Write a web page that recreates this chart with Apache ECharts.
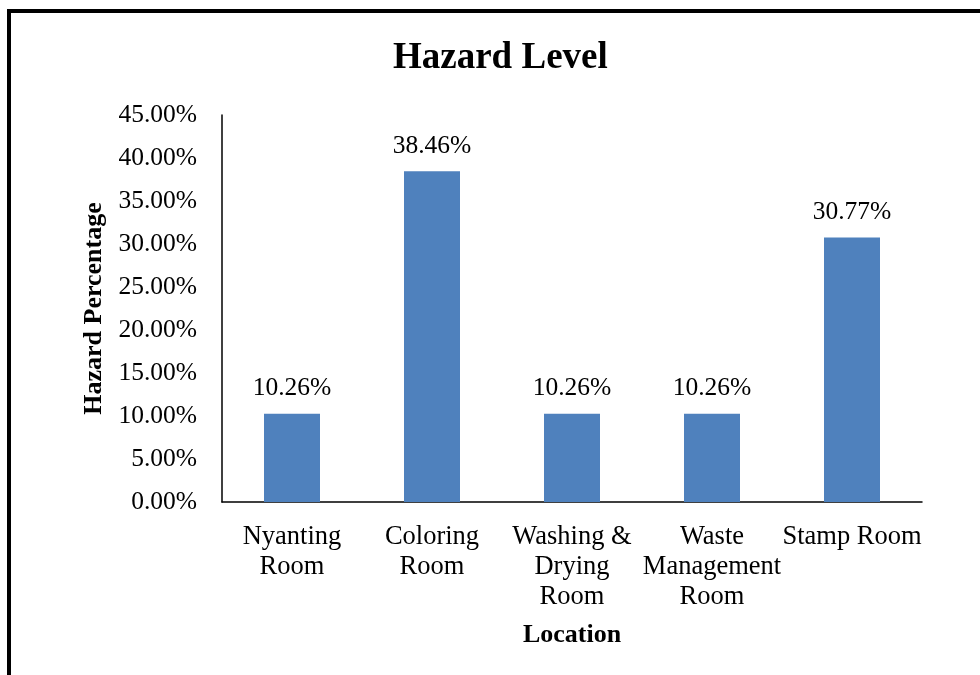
<!DOCTYPE html>
<html><head><meta charset="utf-8">
<script src="https://cdn.jsdelivr.net/npm/echarts@6/dist/echarts.min.js"></script>
<style>html,body{margin:0;padding:0;background:#fff}#c{width:980px;height:675px}</style>
</head><body><div id="c"></div>
<script>
const categories = ['Nyanting\nRoom', 'Coloring\nRoom', 'Washing &\nDrying\nRoom', 'Waste\nManagement\nRoom', 'Stamp Room'];
const values = [10.26, 38.46, 10.26, 10.26, 30.77];
const titleText = 'Hazard Level';
const yName = 'Hazard Percentage';
const xName = 'Location';
const font = 'Liberation Serif, Times New Roman, serif';
const chart = echarts.init(document.getElementById('c'));
chart.setOption({
  animation: false,
  backgroundColor: '#fff',
  title: { text: titleText, left: 388, top: 35, textStyle: { fontFamily: font, fontSize: 37, fontWeight: 'bold', color: '#000' } },
  grid: { left: 222, right: 58, top: 115, bottom: 173 },
  graphic: [{ type: 'rect', shape: { x: 9, y: 11, width: 1100, height: 800 }, style: { fill: 'none', stroke: '#000', lineWidth: 4 }, silent: true }],
  xAxis: {
    type: 'category', data: categories,
    name: xName, nameLocation: 'middle', nameGap: 133,
    nameTextStyle: { fontFamily: font, fontSize: 26, fontWeight: 'bold', color: '#000', verticalAlign: 'middle' },
    axisLine: { lineStyle: { color: '#000', width: 1.5 } },
    axisTick: { show: false },
    axisLabel: { interval: 0, fontFamily: font, fontSize: 26.5, color: '#000', lineHeight: 30, margin: 20 }
  },
  yAxis: {
    type: 'value', min: 0, max: 45, interval: 5,
    name: yName, nameLocation: 'middle', nameGap: 125, nameRotate: 90,
    nameTextStyle: { fontFamily: font, fontSize: 26, fontWeight: 'bold', color: '#000', verticalAlign: 'middle' },
    axisLine: { show: true, lineStyle: { color: '#000', width: 1.5 } },
    axisTick: { show: false },
    splitLine: { show: false },
    axisLabel: { formatter: v => v.toFixed(2) + '%', fontFamily: font, fontSize: 25.5, color: '#000', margin: 25 }
  },
  series: [{
    type: 'bar', data: values, barWidth: 56,
    itemStyle: { color: '#4F81BD' },
    label: { show: true, position: 'top', distance: 12, formatter: p => p.value.toFixed(2) + '%', fontFamily: font, fontSize: 25.5, color: '#000' }
  }]
});
</script></body></html>
